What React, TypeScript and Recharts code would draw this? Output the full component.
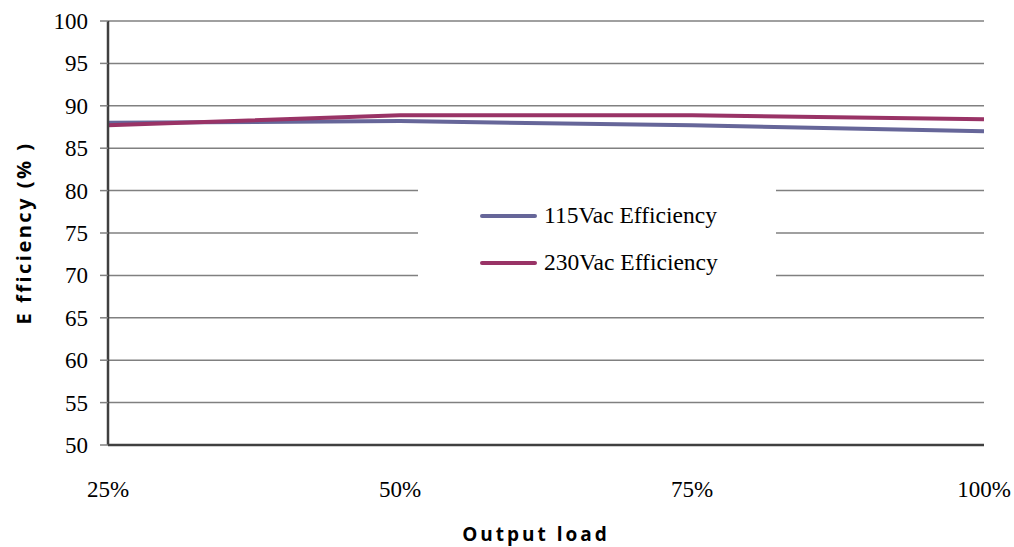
import React from "react";
import {
  LineChart,
  Line,
  XAxis,
  YAxis,
  CartesianGrid,
  Legend,
} from "recharts";

const loads = ["25%", "50%", "75%", "100%"];
const eff115 = [88.0, 88.2, 87.7, 87.0];
const eff230 = [87.7, 88.9, 88.9, 88.4];
const yTicks = [50, 55, 60, 65, 70, 75, 80, 85, 90, 95, 100];

const data = loads.map((load, i) => ({
  load,
  v115: eff115[i],
  v230: eff230[i],
}));

const SERIF = "Liberation Serif, DejaVu Serif, serif";
const SANS = "Open Sans, Liberation Sans, sans-serif";

const renderXTick = (props: any) => {
  const { x, y, payload } = props;
  return (
    <text
      x={x}
      y={y}
      dy={16}
      textAnchor="middle"
      fontFamily={SERIF}
      fontSize={23}
      fill="#000"
      style={{ fontFamily: SERIF }}
    >
      {payload.value}
    </text>
  );
};

const renderYTick = (props: any) => {
  const { x, y, payload } = props;
  return (
    <text
      x={x}
      y={y}
      dy={8}
      textAnchor="end"
      fontFamily={SERIF}
      fontSize={23}
      fill="#000"
      style={{ fontFamily: SERIF }}
    >
      {payload.value}
    </text>
  );
};

const LegendBox = ({ payload }: { payload?: Array<{ value: string; color: string }> }) => (
  <div
    style={{
      background: "#fff",
      width: 358,
      height: 130,
      boxSizing: "border-box",
      paddingTop: 22,
      paddingLeft: 62,
    }}
  >
    {(payload || []).map((p) => (
      <div
        key={p.value}
        style={{ display: "flex", alignItems: "center", height: 47 }}
      >
        <div
          style={{
            width: 57,
            height: 4,
            borderRadius: 2,
            background: p.color,
            marginRight: 7,
          }}
        />
        <span style={{ fontFamily: SERIF, fontSize: 23.5, color: "#000" }}>
          {p.value}
        </span>
      </div>
    ))}
  </div>
);

export default function App() {
  return (
    <div
      style={{
        position: "absolute",
        left: 0,
        top: 0,
        background: "#fff",
        fontFamily: SERIF,
      }}
    >
      <LineChart
        width={1014}
        height={547}
        data={data}
        style={{ fontFamily: SERIF }}
        margin={{ top: 21, right: 30, bottom: 0, left: 0 }}
      >
        <CartesianGrid horizontal vertical={false} stroke="#808080" strokeWidth={1.5} />
        <XAxis
          dataKey="load"
          interval={0}
          height={102}
          tickLine={false}
          tickSize={0}
          tickMargin={36}
          axisLine={{ stroke: "#404040", strokeWidth: 2.5 }}
          tick={renderXTick}
          label={{
            value: "Output load",
            position: "insideBottom",
            offset: 6,
            dx: -10,
            style: {
              fontFamily: SANS,
              fontWeight: 700,
              fontSize: 19,
              letterSpacing: 3,
              fill: "#000",
            },
          }}
        />
        <XAxis
          xAxisId="top"
          dataKey="load"
          orientation="top"
          height={0}
          tick={false}
          tickLine={false}
          axisLine={{ stroke: "#404040", strokeWidth: 2.5 }}
        />
        <YAxis
          domain={[50, 100]}
          ticks={yTicks}
          interval={0}
          width={108}
          tickSize={8}
          tickMargin={12}
          tickLine={{ stroke: "#808080", strokeWidth: 1.5 }}
          axisLine={{ stroke: "#404040", strokeWidth: 2.5 }}
          tick={renderYTick}
          label={{
            value: "E fficiency (% )",
            angle: -90,
            position: "insideLeft",
            offset: 24,
            dy: 0,
            style: {
              fontFamily: SANS,
              fontWeight: 700,
              fontSize: 20,
              letterSpacing: 2.5,
              fill: "#000",
              textAnchor: "middle",
            },
          }}
        />
        <YAxis
          yAxisId="right"
          orientation="right"
          domain={[50, 100]}
          width={0}
          tick={false}
          tickLine={false}
          axisLine={{ stroke: "#000", strokeWidth: 2.5 }}
        />
        <Legend
          layout="vertical"
          align="center"
          verticalAlign="middle"
          wrapperStyle={{ left: 418, top: 170, width: 358, height: 130 }}
          content={<LegendBox />}
        />
        <Line
          type="linear"
          dataKey="v115"
          name="115Vac Efficiency"
          stroke="#666699"
          strokeWidth={4}
          dot={false}
          isAnimationActive={false}
        />
        <Line
          type="linear"
          dataKey="v230"
          name="230Vac Efficiency"
          stroke="#993366"
          strokeWidth={4}
          dot={false}
          isAnimationActive={false}
        />
      </LineChart>
    </div>
  );
}
